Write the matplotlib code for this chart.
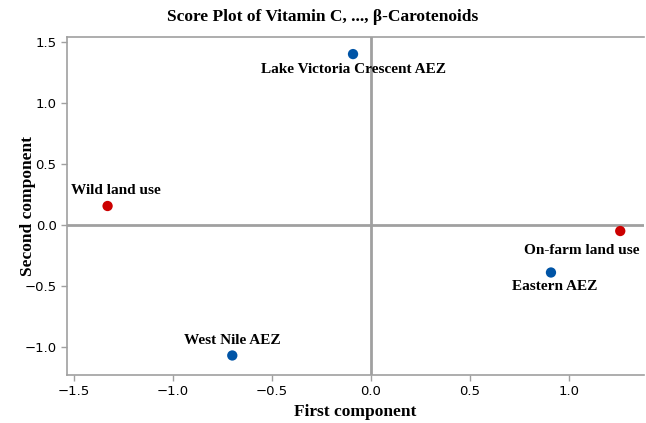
import matplotlib
matplotlib.use("Agg")
import matplotlib.pyplot as plt

names = ["Lake Victoria Crescent AEZ", "Wild land use", "On-farm land use", "Eastern AEZ", "West Nile AEZ"]
pc1 = [-0.09, -1.33, 1.26, 0.91, -0.70]
pc2 = [1.40, 0.155, -0.05, -0.39, -1.07]
groups = ["aez", "land", "land", "aez", "aez"]
colors = {"aez": "#0054a6", "land": "#cc0000"}
# label offsets in points (dx, dy)
offsets = [(0, -11), (6, 11), (-28, -14), (3, -10), (0, 11)]

fig = plt.figure(figsize=(6.46, 4.23), dpi=100)
ax = fig.add_axes([67/646, 1-375/423, (644-67)/646, (375-37)/423])

ax.axhline(0, color="#a0a0a0", lw=2, zorder=1)
ax.axvline(0, color="#a0a0a0", lw=2, zorder=1)
for x, y, g, n, (dx, dy) in zip(pc1, pc2, groups, names, offsets):
    ax.scatter(x, y, s=55, color=colors[g], zorder=3, edgecolors="none")
    ax.annotate(n, (x, y), xytext=(dx, dy), textcoords="offset points",
                ha="center", va="center", fontsize=11, fontweight="bold",
                family="Liberation Serif")

ax.set_xlim(-1.535, 1.38)
ax.set_ylim(-1.23, 1.54)
ax.set_xticks([-1.5, -1.0, -0.5, 0.0, 0.5, 1.0])
ax.set_yticks([-1.0, -0.5, 0.0, 0.5, 1.0, 1.5])
ax.set_xticklabels(["\u22121.5", "\u22121.0", "\u22120.5", "0.0", "0.5", "1.0"])
ax.set_yticklabels(["\u22121.0", "\u22120.5", "0.0", "0.5", "1.0", "1.5"])
ax.tick_params(labelsize=9.5, color="#a0a0a0", length=4, width=1)
for s in ax.spines.values():
    s.set_color("#a0a0a0")
    s.set_linewidth(1.2)
ax.spines["right"].set_visible(False)

ax.set_xlabel("First component", fontsize=12.5, fontweight="bold", family="Liberation Serif")
ax.set_ylabel("Second component", fontsize=12.5, fontweight="bold", family="Liberation Serif")
ax.xaxis.set_label_coords(0.5, (375-404)/338)
ax.yaxis.set_label_coords((36-67)/577, 0.5)
fig.text(0.5, 1-17/423, "Score Plot of Vitamin C, ..., \u03b2-Carotenoids", ha="center", va="center",
         fontsize=12.5, fontweight="bold", family="Liberation Serif")

fig.savefig("out.png", dpi=100)
